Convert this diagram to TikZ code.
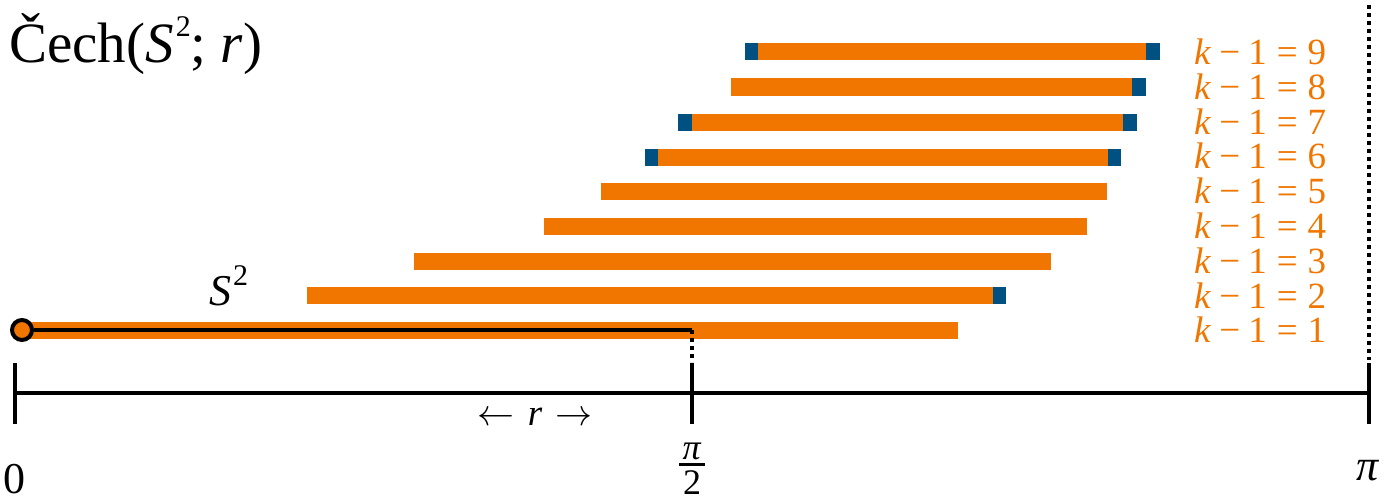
\documentclass[tikz,border=0pt]{standalone}
\usepackage{fix-cm}
\usepackage{fontspec}
\setmainfont{Liberation Serif}
\definecolor{barorange}{RGB}{240,118,0}
\definecolor{capblue}{RGB}{0,80,130}
\newcommand{\supnum}[2]{\kern2pt\raisebox{#2}{\fontsize{#1}{#1}\selectfont 2}}
\begin{document}
\begin{tikzpicture}[x=1pt,y=-1pt,
  barfill/.style={fill=barorange},
  capfill/.style={fill=capblue},
  axisline/.style={line width=4.5pt, black},
  klabel/.style={text=barorange, font=\fontsize{37}{37}\selectfont, anchor=west, inner sep=0pt},
  axlabel/.style={font=\fontsize{44}{44}\selectfont, inner sep=0pt}]
\useasboundingbox (0,0) rectangle (1384,503);
% bars
\foreach \yy/\a/\b in {330/22/958, 295/307/993, 261/414/1051, 226/544/1087, 191/601/1107,
  157/658/1108, 122/692/1123, 87/731/1132, 52/758/1146}
  \fill[barfill] (\a,\yy-8.5) rectangle (\b,\yy+8.5);
% blue caps
\foreach \yy/\a/\b in {295/993/1006, 157/645/658, 157/1108/1121, 122/678/692, 122/1123/1137,
  87/1132/1146, 52/745/758, 52/1146/1160}
  \fill[capfill] (\a,\yy-8.5) rectangle (\b,\yy+8.5);
% labels
\foreach \i in {1,...,9}
  \node[klabel] (k\i) at (1194,{330-(\i-1)*34.75}) {\textit{k}\hspace{0.22em}−\hspace{0.22em}1\hspace{0.27em}=\hspace{0.27em}\i};
% axis
\coordinate (zero) at (15,393);
\coordinate (half) at (692,393);
\coordinate (pi) at (1369,393);
\draw[axisline] (zero) -- (pi);
\foreach \c in {zero,half,pi}
  \draw[axisline] ([yshift=-31]\c) -- ([yshift=30]\c);
\node[axlabel, anchor=north] (l0) at (15,464) {0};
\node[anchor=base, inner sep=0pt, font=\fontsize{36}{36}\selectfont] (lhnum) at (692,459) {\textit{π}};
\coordinate (barl) at (679,464.5);
\coordinate (barr) at (705,464.5);
\draw[line width=2.5pt] (barl) -- (barr);
\node[anchor=base, inner sep=0pt, font=\fontsize{36}{36}\selectfont] (lhden) at (692,494) {2};
\node[axlabel, anchor=north] (lpi) at (1368,460) {\textit{π}};
% dotted limit at pi
\coordinate (pitop) at (1369,5);
\coordinate (pibot) at (1369,360);
\draw[line width=4pt, dash pattern=on 4pt off 4pt] (pitop) -- (pibot);
% S^2 line
\node[circle, draw=black, line width=4pt, fill=barorange, minimum size=20pt, inner sep=0pt] (base) at (22,330) {};
\coordinate (send) at (692,330);
\coordinate (sdrop) at (692,362);
\draw[line width=4.5pt, black] (base.east) -- (send);
\draw[line width=4pt, dash pattern=on 4pt off 4pt] (send) -- (sdrop);
% texts
\node[anchor=base west, inner sep=0pt, font=\fontsize{57}{57}\selectfont] (title) at (9,63) {Čech(\textit{S}\supnum{30}{26pt}; \textit{r})};
\node[anchor=base west, inner sep=0pt, font=\fontsize{44}{44}\selectfont] (s2) at (209,305) {\textit{S}\supnum{30}{20pt}};
\node[anchor=base, inner sep=0pt, font=\fontsize{37}{37}\selectfont] (rlab) at (535,425) {$\leftarrow$\hspace{0.35em}\textit{r}\hspace{0.35em}$\rightarrow$};
\end{tikzpicture}
\end{document}
